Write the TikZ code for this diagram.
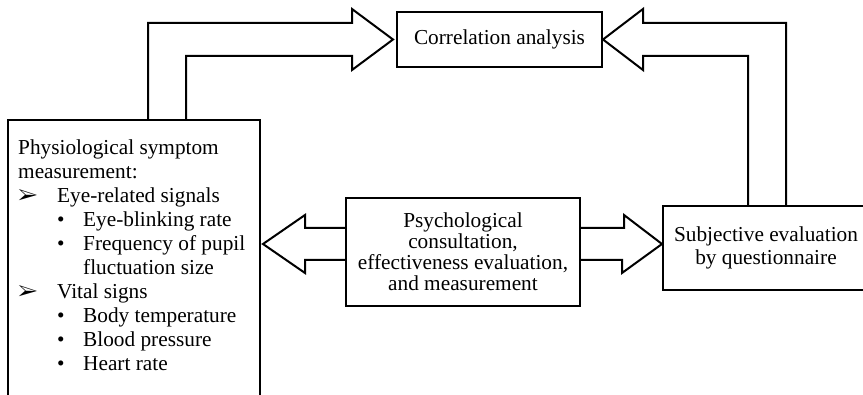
\documentclass[tikz,border=0pt]{standalone}
\usepackage{fontspec}
\setmainfont{Liberation Serif}
\usepackage{pifont}
\usetikzlibrary{calc}

\tikzset{
  box/.style={draw, line width=2pt, fill=white, inner sep=0pt, align=center},
  blockarrow/.style={draw, line width=2pt, line join=miter},
}
\newcommand{\markA}{\makebox[39pt][l]{\ding{226}}}
\newcommand{\markB}{\hspace*{39pt}\makebox[26pt][l]{\textbullet}}

\begin{document}
\begin{tikzpicture}[x=1pt,y=-1pt]
    \clip (0,0) rectangle (863,395);

    % boxes
    \node[box, minimum width=205pt, minimum height=55pt,
          font=\fontsize{21.3}{23}\selectfont] (corr) at (499.5,39.5)
          {Correlation analysis};
    \node[box, minimum width=234pt, minimum height=108pt,
          font=\fontsize{21.3}{21}\selectfont] (psych) at (463,252)
          {Psychological\\consultation,\\effectiveness evaluation,\\and measurement};
    \node[box, minimum width=206pt, minimum height=84pt,
          font=\fontsize{21.3}{23}\selectfont] (subj) at (766,248)
          {Subjective evaluation\\by questionnaire};
    \node[box, anchor=north west, minimum width=252pt, minimum height=300pt]
          (phys) at (7,119) {};
    \node[anchor=north west, inner sep=0pt, align=left,
          font=\fontsize{21.3}{24}\selectfont] (physlist) at (18,139.5)
          {Physiological symptom\\
           measurement:\\
           \markA Eye-related signals\\
           \markB Eye-blinking rate\\
           \markB Frequency of pupil\\
           \hspace*{65pt}fluctuation size\\
           \markA Vital signs\\
           \markB Body temperature\\
           \markB Blood pressure\\
           \markB Heart rate};

    % block arrows
    \draw[blockarrow] ($(phys.north west)+(141,0)$) |- ($(corr.west)+(-44,-16.5)$)
        -- ++(0,-14) -- ($(corr.west)+(-3,0)$) -- ++(-41,30.5) -- ++(0,-14)
        -| ($(phys.north west)+(179,0)$);
    \draw[blockarrow] ($(subj.north west)+(86,0)$) |- ($(corr.east)+(40,16.5)$)
        -- ++(0,14) -- (corr.east) -- ++(40,-30.5) -- ++(0,14)
        -| ($(subj.north west)+(124,0)$);
    \draw[blockarrow] ($(psych.west)+(0,-24)$) -- ++(-40,0) -- ++(0,-13)
        -- ($(psych.west)+(-82,-8)$) -- ++(42,29) -- ++(0,-13) -- ++(40,0);
    \draw[blockarrow] ($(psych.east)+(0,-24)$) -- ++(43,0) -- ++(0,-13)
        -- ($(subj.west)+(0,-4)$) -- ++(-40,29) -- ++(0,-13) -- ++(-43,0);
\end{tikzpicture}
\end{document}
